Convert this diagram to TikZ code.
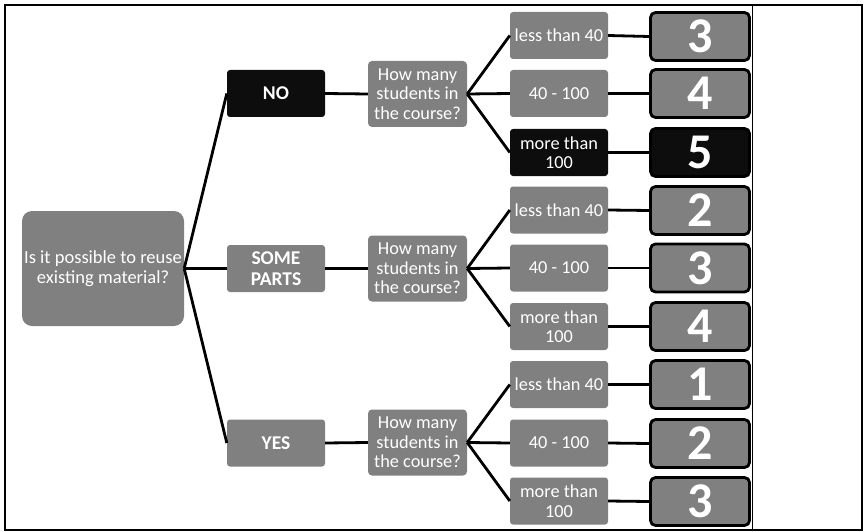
\documentclass[tikz,border=0pt]{standalone}
\usepackage{fontspec}
\setmainfont{Carlito}
\begin{document}
\begin{tikzpicture}[x=1pt,y=-1pt,
  box/.style={fill=boxgray, text=white, rounded corners=3pt, inner sep=0pt, align=center,
    font=\fontsize{18.3}{19.5}\selectfont},
  dark/.style={fill=black!95},
  rootbox/.style={box, minimum width=162pt, minimum height=115pt, rounded corners=10pt,
    font=\fontsize{18.5}{19.5}\selectfont},
  choice/.style={box, minimum width=98pt, minimum height=47pt, font=\bfseries\fontsize{19.5}{21}\selectfont},
  question/.style={box, minimum width=99pt, minimum height=66pt, rounded corners=4pt},
  answer/.style={box, minimum width=98pt, minimum height=47pt},
  result/.style={box, draw=black, line width=2.8pt, minimum width=99pt, minimum height=48pt,
    rounded corners=5pt, font=\bfseries\fontsize{50}{50}\selectfont},
  link/.style={line width=2.8pt, black}]
\colorlet{boxgray}{black!50}
\useasboundingbox (0,0) rectangle (864,532);
\draw[line width=2pt] (5,5) rectangle (862,530);
\draw[line width=1pt] (752,5) -- (752,530);

% first question
\node[rootbox] (root) at (103,268.5) {Is it possible to reuse\\existing material?};

% answers to the first question
\node[choice, dark] (no)   at (276,93.5) {NO};
\node[choice]       (some) at (276,268.5) {SOME\\PARTS};
\node[choice]       (yes)  at (276,443) {YES};

% follow-up questions
\node[question] (q1) at (417.5,94)    {How many\\students in\\the course?};
\node[question] (q2) at (417.5,268.5) {How many\\students in\\the course?};
\node[question] (q3) at (417.5,442.5) {How many\\students in\\the course?};

% course sizes
\node[answer]       (a1) at (559,35.5)  {less than 40};
\node[answer]       (a2) at (559,93.5)  {40 - 100};
\node[answer, dark] (a3) at (559,152.5) {more than\\100};
\node[answer]       (a4) at (559,210)   {less than 40};
\node[answer]       (a5) at (559,268)   {40 - 100};
\node[answer]       (a6) at (559,326.5) {more than\\100};
\node[answer]       (a7) at (559,384.5) {less than 40};
\node[answer]       (a8) at (559,443)   {40 - 100};
\node[answer]       (a9) at (559,501)   {more than\\100};

% scores
\node[result]       (r1) at (700,36.5)  {3};
\node[result]       (r2) at (700,93.5)  {4};
\node[result, dark] (r3) at (700,152.5) {5};
\node[result]       (r4) at (700,210.5) {2};
\node[result]       (r5) at (700,268)   {3};
\node[result]       (r6) at (700,326.5) {4};
\node[result]       (r7) at (700,384.5) {1};
\node[result]       (r8) at (700,443.5) {2};
\node[result]       (r9) at (700,501.5) {3};

% connectors
\foreach \c in {no,some,yes}
  \draw[link] (root.east) -- (\c.west);
\draw[link] (no.east) -- (q1.west);
\draw[link] (some.east) -- (q2.west);
\draw[link] (yes.east) -- (q3.west);
\foreach \a in {a1,a2,a3} \draw[link] (q1.east) -- (\a.west);
\foreach \a in {a4,a5,a6} \draw[link] (q2.east) -- (\a.west);
\foreach \a in {a7,a8,a9} \draw[link] (q3.east) -- (\a.west);
\foreach \i in {1,...,9} \draw[link] (a\i.east) -- (r\i.west);
\end{tikzpicture}
\end{document}
